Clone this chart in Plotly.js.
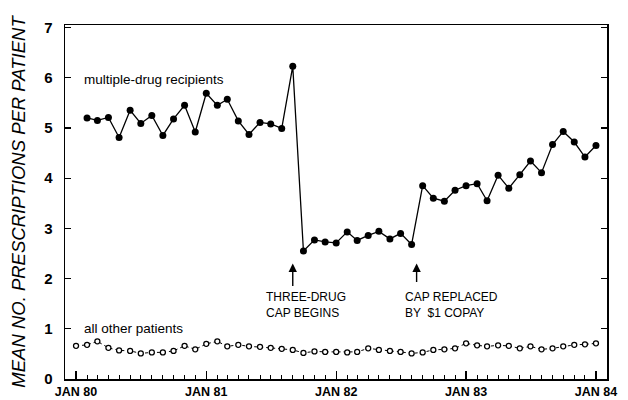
<!DOCTYPE html>
<html>
<head>
<meta charset="utf-8">
<script src="https://cdn.plot.ly/plotly-3.0.1.min.js"></script>
<style>
  html, body { margin: 0; padding: 0; background: #fff; }
  #chart { width: 628px; height: 400px; }
</style>
</head>
<body>
<div id="chart"></div>
<script>
// Months (first day of each month), Jan 1980 .. Jan 1984
const months = [
  '1980-01-01','1980-02-01','1980-03-01','1980-04-01','1980-05-01','1980-06-01',
  '1980-07-01','1980-08-01','1980-09-01','1980-10-01','1980-11-01','1980-12-01',
  '1981-01-01','1981-02-01','1981-03-01','1981-04-01','1981-05-01','1981-06-01',
  '1981-07-01','1981-08-01','1981-09-01','1981-10-01','1981-11-01','1981-12-01',
  '1982-01-01','1982-02-01','1982-03-01','1982-04-01','1982-05-01','1982-06-01',
  '1982-07-01','1982-08-01','1982-09-01','1982-10-01','1982-11-01','1982-12-01',
  '1983-01-01','1983-02-01','1983-03-01','1983-04-01','1983-05-01','1983-06-01',
  '1983-07-01','1983-08-01','1983-09-01','1983-10-01','1983-11-01','1983-12-01',
  '1984-01-01'
];

// Multiple-drug recipients: Feb 1980 .. Jan 1984
const multipleMonths = months.slice(1);
const multipleDrug = [
  5.20, 5.15, 5.21, 4.81, 5.35, 5.09, 5.25, 4.85, 5.18, 5.45, 4.92,
  5.69, 5.45, 5.57, 5.14, 4.87, 5.11, 5.08, 4.99, 6.23, 2.55, 2.77, 2.73,
  2.71, 2.93, 2.76, 2.86, 2.94, 2.79, 2.90, 2.68, 3.85, 3.60, 3.54, 3.76,
  3.85, 3.89, 3.55, 4.06, 3.80, 4.07, 4.34, 4.11, 4.67, 4.93, 4.72, 4.42,
  4.65
];

// All other patients: Jan 1980 .. Jan 1984
const allOther = [
  0.66, 0.68, 0.75, 0.62, 0.57, 0.56, 0.51, 0.53, 0.53, 0.56, 0.66, 0.59,
  0.70, 0.75, 0.65, 0.68, 0.65, 0.64, 0.62, 0.60, 0.58, 0.52, 0.55, 0.54,
  0.54, 0.53, 0.54, 0.61, 0.58, 0.56, 0.54, 0.51, 0.53, 0.58, 0.59, 0.61,
  0.71, 0.67, 0.65, 0.67, 0.66, 0.61, 0.65, 0.59, 0.61, 0.65, 0.68, 0.69,
  0.71
];

const xTickVals = ['1980-01-01','1981-01-01','1982-01-01','1983-01-01','1984-01-01'];
const xTickText = ['JAN 80','JAN 81','JAN 82','JAN 83','JAN 84'];
const yTickVals = [0, 1, 2, 3, 4, 5, 6, 7];

const eventDates = ['1981-09-01', '1982-08-15'];

const FONT = 'Liberation Sans, Arial, sans-serif';

const traces = [
  {
    x: multipleMonths, y: multipleDrug, type: 'scatter', mode: 'lines+markers',
    line: { color: '#000', width: 1.3 },
    marker: { color: '#000', size: 7, symbol: 'circle' },
    hoverinfo: 'skip'
  },
  {
    x: months, y: allOther, type: 'scatter', mode: 'lines+markers',
    line: { color: '#000', width: 1, dash: 'dot' },
    marker: { color: '#fff', size: 5, symbol: 'circle', line: { color: '#000', width: 1.3 } },
    hoverinfo: 'skip'
  }
];

const layout = {
  width: 628, height: 400,
  margin: { l: 65, r: 21, t: 25, b: 21, pad: 0 },
  paper_bgcolor: '#fff', plot_bgcolor: '#fff',
  showlegend: false,
  font: { family: FONT, color: '#000' },
  xaxis: {
    type: 'date',
    range: ['1979-12-01', '1984-02-01'],
    tickmode: 'array', tickvals: xTickVals, ticktext: xTickText,
    ticks: 'inside', ticklen: 8, tickwidth: 1.2, tickcolor: '#000',
    minor: { ticks: 'inside', dtick: 'M1', tick0: '1980-01-01', ticklen: 4, tickwidth: 1, tickcolor: '#000', showgrid: false },
    tickfont: { family: FONT, size: 12.5, weight: 'bold', color: '#000' },
    showline: true, linecolor: '#000', linewidth: 1.5, mirror: true,
    showgrid: false, zeroline: false, fixedrange: true
  },
  yaxis: {
    range: [0, 7.05],
    tickmode: 'array', tickvals: yTickVals,
    ticks: 'inside', ticklen: 6, tickwidth: 1.2, tickcolor: '#000',
    ticklabelstandoff: 8,
    tickfont: { family: FONT, size: 15, weight: 'bold', color: '#000' },
    showline: true, linecolor: '#000', linewidth: 1.5, mirror: 'ticks',
    showgrid: false, zeroline: false, fixedrange: true,
    title: {
      text: 'MEAN NO. PRESCRIPTIONS PER PATIENT',
      font: { family: FONT, size: 18.5, style: 'italic', color: '#000' },
      standoff: 13
    }
  },
  annotations: [
    {
      xref: 'paper', yref: 'paper', x: 0.031, y: 0.847, xanchor: 'left', yanchor: 'middle',
      text: 'multiple-drug recipients', showarrow: false,
      font: { family: FONT, size: 13.5, color: '#000' }
    },
    {
      xref: 'paper', yref: 'paper', x: 0.031, y: 0.144, xanchor: 'left', yanchor: 'middle',
      text: 'all other patients', showarrow: false,
      font: { family: FONT, size: 13.5, color: '#000' }
    },
    {
      xref: 'x', yref: 'y', axref: 'x', ayref: 'y',
      x: eventDates[0], y: 2.3, ax: eventDates[0], ay: 1.82,
      text: '', showarrow: true, arrowhead: 2, arrowsize: 1.2, arrowwidth: 1.4, arrowcolor: '#000'
    },
    {
      xref: 'x', yref: 'y', axref: 'x', ayref: 'y',
      x: eventDates[1], y: 2.3, ax: eventDates[1], ay: 1.9,
      text: '', showarrow: true, arrowhead: 2, arrowsize: 1.2, arrowwidth: 1.4, arrowcolor: '#000'
    },
    {
      xref: 'paper', yref: 'paper', x: 0.367, y: 0.209, xanchor: 'left', yanchor: 'middle', align: 'left',
      text: 'THREE-DRUG<br>CAP BEGINS', showarrow: false,
      font: { family: FONT, size: 12, color: '#000' }
    },
    {
      xref: 'paper', yref: 'paper', x: 0.6235, y: 0.209, xanchor: 'left', yanchor: 'middle', align: 'left',
      text: 'CAP REPLACED<br>BY  $1 COPAY', showarrow: false,
      font: { family: FONT, size: 12, color: '#000' }
    }
  ]
};

Plotly.newPlot('chart', traces, layout, { displayModeBar: false, staticPlot: true });
</script>
</body>
</html>
